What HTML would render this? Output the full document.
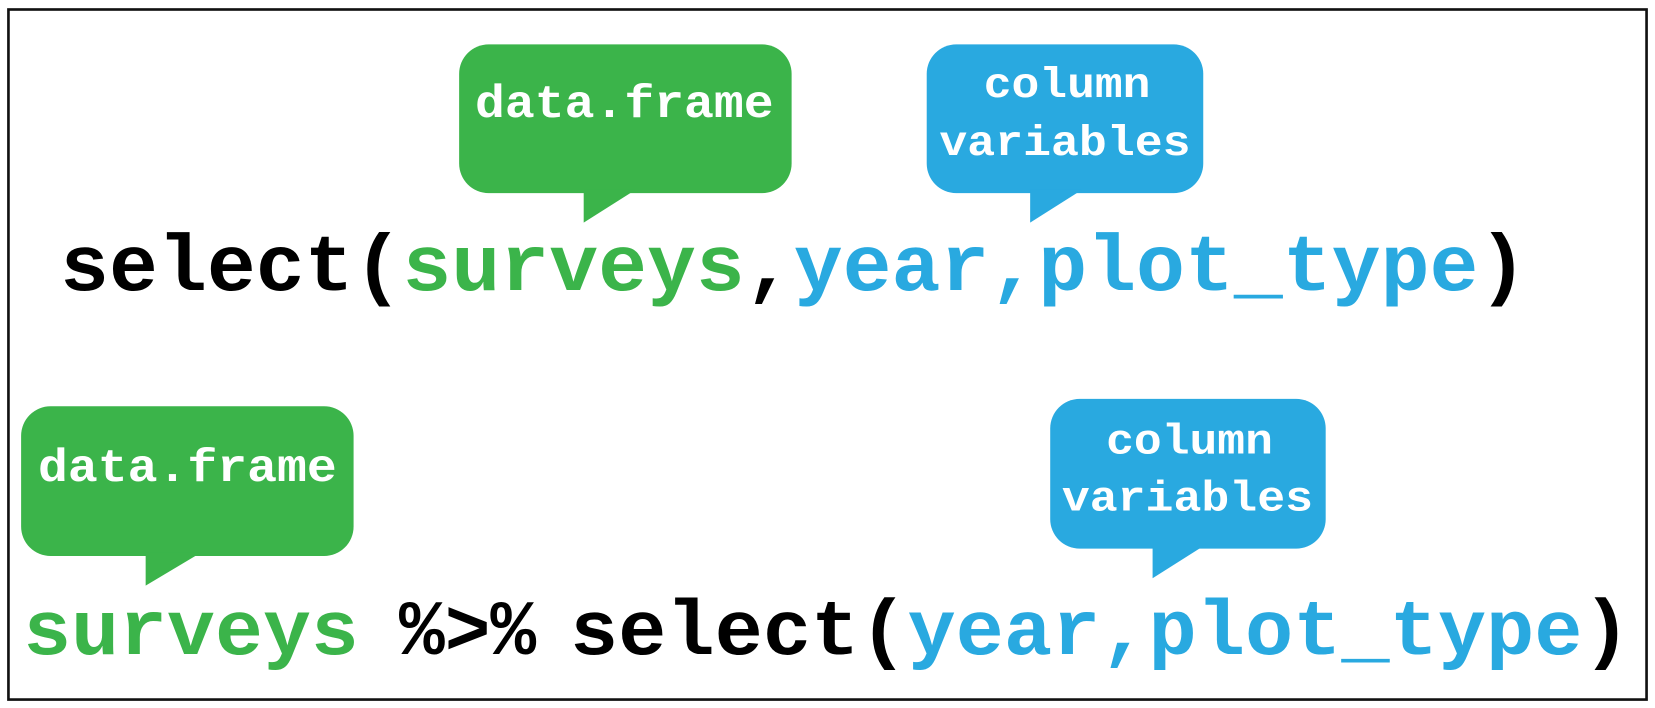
<!DOCTYPE html>
<html><head><meta charset="utf-8"><style>
html,body{margin:0;padding:0;background:#fff;}
svg{display:block;}
text{font-family:"Liberation Mono","Courier New",monospace;font-weight:bold;}
</style></head><body>
<svg width="1655" height="708" viewBox="0 0 1568 671" preserveAspectRatio="none">
<rect x="8" y="9" width="1552" height="654" fill="#fff" stroke="#111" stroke-width="2.5"/>

<g>
<rect x="435" y="42" width="315" height="141" rx="28" fill="#3BB44A"/>
<polygon points="553,180 602,180 553,211" fill="#3BB44A"/>
<text x="450" y="111" font-size="44" fill="#fff" textLength="283" lengthAdjust="spacingAndGlyphs">data.frame</text>
</g>

<g>
<rect x="878" y="42" width="262" height="141" rx="28" fill="#29A9E0"/>
<polygon points="976,180 1025,180 976,211" fill="#29A9E0"/>
<text x="932" y="92" font-size="40" fill="#fff" textLength="158" lengthAdjust="spacingAndGlyphs">column</text>
<text x="890" y="147" font-size="40" fill="#fff" textLength="238" lengthAdjust="spacingAndGlyphs">variables</text>
</g>

<text x="57" y="275" font-size="76" textLength="1390" lengthAdjust="spacingAndGlyphs"><tspan fill="#000">select(</tspan><tspan fill="#3BB44A">surveys</tspan><tspan fill="#000">,</tspan><tspan fill="#29A9E0">year,plot_type</tspan><tspan fill="#000">)</tspan></text>

<g>
<rect x="20" y="385" width="315" height="142" rx="28" fill="#3BB44A"/>
<polygon points="138,524 190,524 138,555" fill="#3BB44A"/>
<text x="36" y="456" font-size="44" fill="#fff" textLength="283" lengthAdjust="spacingAndGlyphs">data.frame</text>
</g>

<g>
<rect x="995" y="378" width="261" height="142" rx="28" fill="#29A9E0"/>
<polygon points="1092,517 1141,517 1092,548" fill="#29A9E0"/>
<text x="1048" y="430" font-size="40" fill="#fff" textLength="158" lengthAdjust="spacingAndGlyphs">column</text>
<text x="1006" y="484" font-size="40" fill="#fff" textLength="238" lengthAdjust="spacingAndGlyphs">variables</text>
</g>

<text x="22" y="620" font-size="74" fill="#3BB44A" textLength="318" lengthAdjust="spacingAndGlyphs">surveys</text>
<text x="378" y="620" font-size="74" fill="#000" textLength="130" lengthAdjust="spacingAndGlyphs">%&gt;%</text>
<text x="540" y="620" font-size="74" textLength="1005" lengthAdjust="spacingAndGlyphs"><tspan fill="#000">select(</tspan><tspan fill="#29A9E0">year,plot_type</tspan><tspan fill="#000">)</tspan></text>
</svg>
</body></html>
